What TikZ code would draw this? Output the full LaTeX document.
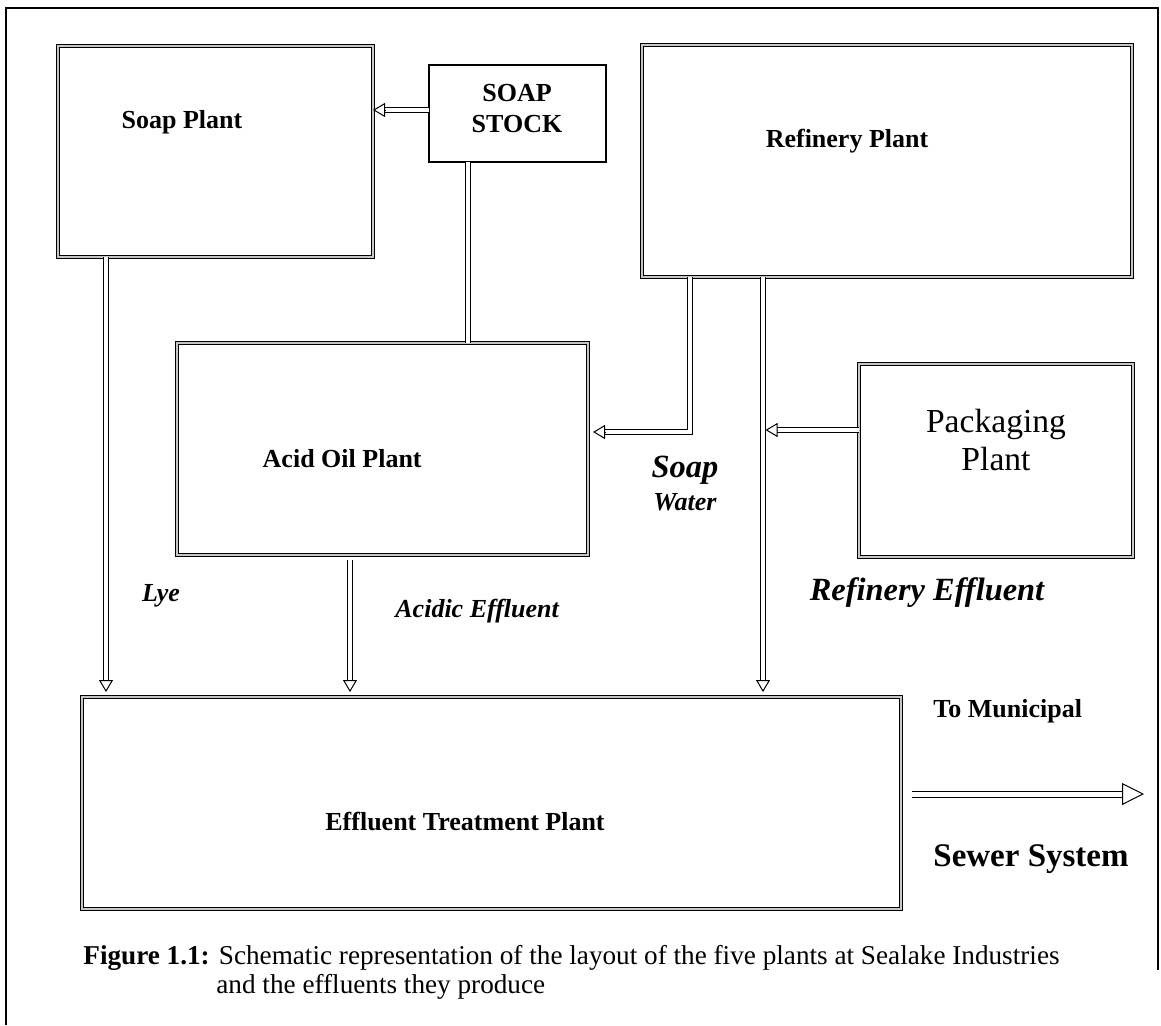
\documentclass[tikz,border=0pt]{standalone}
\usepackage{fontspec}
\setmainfont{Liberation Serif}
\usetikzlibrary{arrows.meta,calc}
\begin{document}
\begin{tikzpicture}[x=0.5pt,y=-0.5pt,
  box/.style={draw, line width=0.6pt, double=gray!45, double distance=0.6pt, outer sep=0pt, inner sep=0pt},
  sbox/.style={draw, line width=0.7pt, outer sep=0pt, inner sep=0pt},
  pipe/.style={draw, line width=0.5pt, double, double distance=1.7pt},
  bigpipe/.style={draw, line width=0.5pt, double, double distance=2.5pt},
  tipa/.style={line width=0.5pt, -{Triangle[fill=white,length=6pt,width=7pt]}},
  tipb/.style={line width=0.5pt, -{Triangle[fill=white,length=11pt,width=11pt]}},
  lbl/.style={font=\fontsize{13}{15}\selectfont\bfseries, inner sep=0pt},
  biglbl/.style={font=\fontsize{16.5}{20}\selectfont\bfseries, inner sep=0pt},
  ilbl/.style={font=\fontsize{13}{15}\selectfont\bfseries\itshape, inner sep=0pt},
  bigilbl/.style={font=\fontsize{16.2}{20}\selectfont\bfseries\itshape, inner sep=0pt},
  packlbl/.style={font=\fontsize{16.8}{20}\selectfont, inner sep=0pt},
  caplbl/.style={font=\fontsize{13.6}{16}\selectfont, inner sep=0pt}
]
\useasboundingbox (0,0) rectangle (1161,1025);
\fill[white] (0,0) rectangle (1161,1025);
\draw[line width=0.7pt] (6,1025) -- (6,8) -- (1158,8) -- (1158,970);

% boxes
\node[box, minimum width=157.5pt, minimum height=105.5pt] (soap) at (215.5,151.5) {};
\node[sbox, minimum width=88.5pt, minimum height=48.5pt] (stock) at (517.5,113.5) {};
\node[box, minimum width=245pt, minimum height=116pt] (ref) at (887,161) {};
\node[box, minimum width=205.5pt, minimum height=106pt] (acid) at (382.5,449) {};
\node[box, minimum width=137pt, minimum height=96.5pt] (pack) at (996,460.5) {};
\node[box, minimum width=409.5pt, minimum height=106pt] (etp) at (491.5,803) {};

% box texts
\node[lbl, anchor=base] (soapT) at (182,128) {Soap Plant};
\node[lbl, anchor=base] (stockT1) at (517,101) {SOAP};
\node[lbl, anchor=base] (stockT2) at (517,132) {STOCK};
\node[lbl, anchor=base] (refT) at (847,147) {Refinery Plant};
\node[lbl, anchor=base east] (acidT) at (422,467) {Acid Oil Plant};
\node[packlbl, anchor=base] (packT1) at (996,432) {Packaging};
\node[packlbl, anchor=base] (packT2) at (996,470) {Plant};
\node[lbl, anchor=base west] (etpT) at (325,830) {Effluent Treatment Plant};

% flow labels
\node[ilbl, anchor=base] (lyeT) at (161,601) {Lye};
\node[ilbl, anchor=base west] (acidE) at (395,617) {Acidic Effluent};
\node[bigilbl, anchor=base] (soapW1) at (685,477) {Soap};
\node[ilbl, anchor=base] (soapW2) at (685,510) {Water};
\node[bigilbl, anchor=base] (refE) at (927,600) {Refinery Effluent};
\node[lbl, anchor=base west] (muni) at (933,717) {To Municipal};
\node[biglbl, anchor=base west] (sewer) at (933,866) {Sewer System};

% caption
\node[caplbl, anchor=base west] (cap1) at (83,964) {\textbf{Figure 1.1:} Schematic representation of the layout of the five plants at Sealake Industries};
\node[caplbl, anchor=base west] (cap2) at (216,993) {and the effluents they produce};

% SOAP STOCK -> Soap Plant
\coordinate (a1) at ($(stock.west)+(0,-3.5)$);
\coordinate (a2) at (a1 -| soap.east);
\draw[pipe, shorten >=5pt] (a1) -- (a2);
\draw[tipa] ($(a2)!6pt!(a1)$) -- (a2);

% SOAP STOCK -- Acid Oil Plant
\coordinate (b1) at ($(stock.south west)+(39,0)$);
\coordinate (b2) at (b1 |- acid.north);
\draw[pipe] (b1) -- (b2);

% Soap Plant -> ETP (Lye)
\coordinate (c1) at ($(soap.south west)+(48,0)$);
\coordinate (c2) at ($(c1 |- etp.north)+(0,-5)$);
\draw[pipe, shorten >=5pt] (c1) -- (c2);
\draw[tipa] ($(c2)!6pt!(c1)$) -- (c2);

% Acid Oil -> ETP
\coordinate (d1) at ($(acid.south west)+(173,5)$);
\coordinate (d2) at ($(d1 |- etp.north)+(0,-5)$);
\draw[pipe, shorten >=5pt] (d1) -- (d2);
\draw[tipa] ($(d2)!6pt!(d1)$) -- (d2);

% Refinery -> Acid Oil (soap water)
\coordinate (e1) at ($(ref.south west)+(48,0)$);
\coordinate (e2) at ($(e1 |- acid.east)+(0,-17)$);
\coordinate (e3) at ($(acid.east |- e2)+(5,0)$);
\draw[pipe, shorten >=5pt] (e1) -- (e2) -- (e3);
\draw[tipa] ($(e3)!6pt!(e2)$) -- (e3);

% Refinery -> ETP
\coordinate (f1) at ($(ref.south west)+(121,0)$);
\coordinate (f2) at ($(f1 |- etp.north)+(0,-5)$);
\draw[pipe, shorten >=5pt] (f1) -- (f2);
\draw[tipa] ($(f2)!6pt!(f1)$) -- (f2);

% Packaging -> refinery line
\coordinate (g1) at ($(pack.west)+(0,-30.5)$);
\coordinate (g2) at ($(g1 -| f1)+(2.5,0)$);
\draw[pipe, shorten >=5pt] (g1) -- (g2);
\draw[tipa] ($(g2)!6pt!(g1)$) -- (g2);

% ETP -> sewer
\coordinate (h1) at ($(etp.east)+(11,-9)$);
\coordinate (h2) at ($(h1)+(232,0)$);
\draw[bigpipe, shorten >=10pt] (h1) -- (h2);
\draw[tipb] ($(h2)!11pt!(h1)$) -- (h2);
\end{tikzpicture}
\end{document}
